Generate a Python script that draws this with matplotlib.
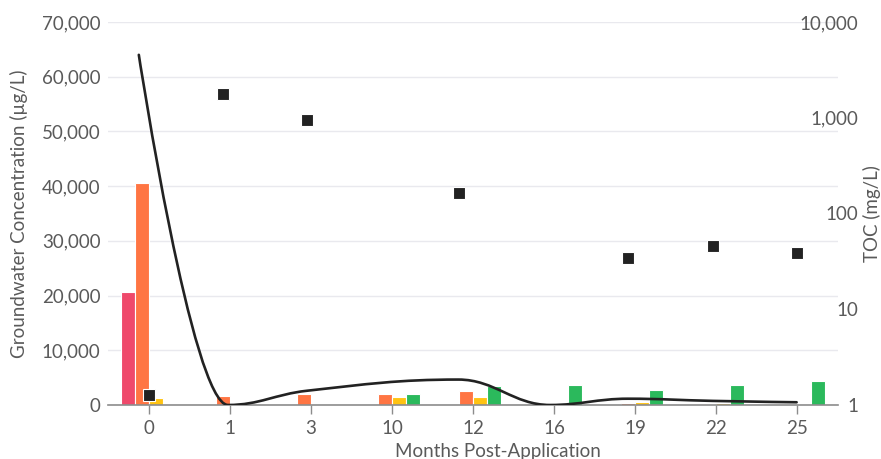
import numpy as np
import matplotlib
matplotlib.use('Agg')
import matplotlib.pyplot as plt
from matplotlib.path import Path
from matplotlib.patches import PathPatch
from matplotlib.ticker import FuncFormatter, FixedLocator, NullLocator

plt.rcParams['font.family'] = ['Lato', 'DejaVu Sans']

# Données
months = ['0', '1', '3', '10', '12', '16', '19', '22', '25']
serie_rouge = [20700, 0, 0, 0, 0, 0, 0, 0, 0]
serie_orange = [40600, 1650, 1950, 2000, 2560, 0, 300, 150, 100]
serie_jaune = [1300, 0, 80, 1460, 1460, 0, 500, 300, 80]
serie_verte = [0, 0, 0, 1950, 3400, 3700, 2700, 3600, 4400]

# courbe (spline) - position en unités de catégorie
courbe_x = [-0.12, 0.98, 1.95, 3.82, 4.95, 5.91, 6.96, 7.99]
courbe_y = [64000, 0, 2600, 4650, 0, 1150, 750, 500]

# TOC (axe log à droite)
toc_x = [0.0, 0.915, 1.95, 3.83, 5.91, 6.96, 7.99]
toc_y = [1.27, 1780, 940, 164, 34, 46, 39]

couleurs = ['#ef496b', '#ff7543', '#ffc312', '#2bb95c']
gris_texte = '#5a5a5a'
taille = 13.5


def spline_path(xs, ys, smoothing=1.5):
    # lissage façon "spline" : points de contrôle à tangente plate aux extrema
    n = len(xs)
    left = [(xs[i], ys[i]) for i in range(n)]
    right = [(xs[i], ys[i]) for i in range(n)]
    for i in range(1, n - 1):
        lx, ly = xs[i - 1], ys[i - 1]
        px, py = xs[i], ys[i]
        nx, ny = xs[i + 1], ys[i + 1]
        lcx = (smoothing * px + lx) / (smoothing + 1)
        lcy = (smoothing * py + ly) / (smoothing + 1)
        rcx = (smoothing * px + nx) / (smoothing + 1)
        rcy = (smoothing * py + ny) / (smoothing + 1)
        if rcx != lcx:
            corr = (rcy - lcy) * (rcx - px) / (rcx - lcx) + py - rcy
            lcy += corr
            rcy += corr
        if lcy > ly and lcy > py:
            lcy = max(ly, py)
            rcy = 2 * py - lcy
        elif lcy < ly and lcy < py:
            lcy = min(ly, py)
            rcy = 2 * py - lcy
        if rcy > ny and rcy > py:
            rcy = max(ny, py)
            lcy = 2 * py - rcy
        elif rcy < ny and rcy < py:
            rcy = min(ny, py)
            lcy = 2 * py - rcy
        left[i] = (lcx, lcy)
        right[i] = (rcx, rcy)
    verts = [(xs[0], ys[0])]
    codes = [Path.MOVETO]
    for i in range(1, n):
        verts += [right[i - 1], left[i], (xs[i], ys[i])]
        codes += [Path.CURVE4] * 3
    return Path(verts, codes)


fig = plt.figure(figsize=(8.81, 4.59), dpi=100)
ax = fig.add_axes([108 / 881, 54 / 459, 730 / 881, 383 / 459])
x = np.arange(len(months))
largeur = 0.1726
for k, (serie, c) in enumerate(zip([serie_rouge, serie_orange, serie_jaune, serie_verte], couleurs)):
    ax.bar(x + (k - 1.5) * largeur, serie, largeur, color=c, edgecolor='white',
           linewidth=0.8, zorder=2)

ax.add_patch(PathPatch(spline_path(courbe_x, courbe_y), facecolor='none',
                       edgecolor='#222222', lw=1.9, zorder=3, capstyle='round'))

ax.set_xlim(-0.5, len(months) - 0.5)
ax.set_ylim(0, 70000)
ax.set_yticks(range(0, 70001, 10000))
ax.yaxis.set_major_formatter(FuncFormatter(lambda v, p: f'{int(v):,}'))
ax.set_xticks(x)
ax.set_xticklabels(months)
ax.grid(axis='y', color='#e9e9ee', lw=1, zorder=0)
ax.set_axisbelow(True)
for s in ['top', 'right', 'left']:
    ax.spines[s].set_visible(False)
ax.spines['bottom'].set_color('#8c8c8c')
ax.spines['bottom'].set_linewidth(1.2)
ax.tick_params(axis='y', length=0, pad=5.5, labelsize=taille, labelcolor=gris_texte)
ax.tick_params(axis='x', length=6.5, width=1, color='#8c8c8c', pad=4.5,
               labelsize=taille, labelcolor=gris_texte)
ax.set_ylabel('Groundwater Concentration (µg/L)', fontsize=taille, color=gris_texte)
ax.yaxis.set_label_coords(-0.11, 0.5)
ax.set_xlabel('Months Post-Application', fontsize=taille, color=gris_texte)
ax.xaxis.set_label_coords(0.534, -0.098)

# axe TOC (log)
ax2 = ax.twinx()
ax2.set_yscale('log')
ax2.set_ylim(1, 10000)
ax2.plot(toc_x, toc_y, linestyle='none', marker='s', markersize=9.2,
         color='#222222', markeredgecolor='white', markeredgewidth=0.8, zorder=4,
         clip_on=False)
ax2.yaxis.set_major_locator(FixedLocator([1, 10, 100, 1000, 10000]))
ax2.yaxis.set_minor_locator(NullLocator())
ax2.yaxis.set_major_formatter(FuncFormatter(lambda v, p: f'{int(v):,}'))
ax2.tick_params(axis='y', length=0, pad=14.5, labelsize=taille, labelcolor=gris_texte)
for lab in ax2.get_yticklabels():
    lab.set_horizontalalignment('right')
for s in ax2.spines.values():
    s.set_visible(False)
ax2.set_ylabel('TOC (mg/L)', fontsize=taille, color=gris_texte)
ax2.yaxis.set_label_coords(1.034, 0.5)

fig.savefig('out.png', dpi=100)
